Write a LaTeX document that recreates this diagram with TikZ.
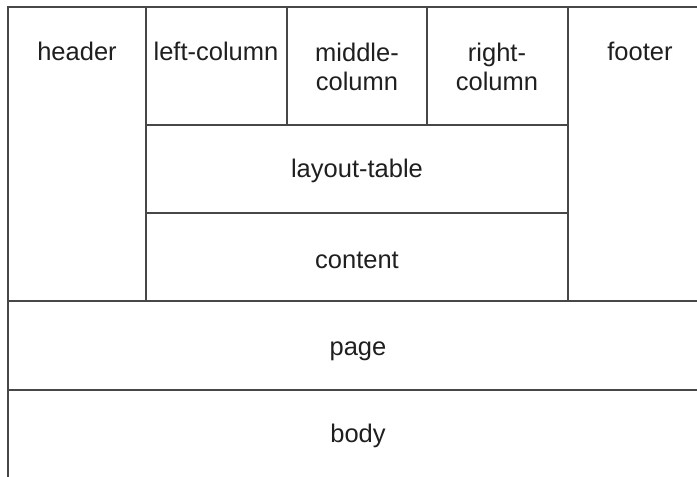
\documentclass[tikz,border=0pt]{standalone}
\usepackage{fontspec}
\setmainfont{Liberation Sans}
\begin{document}
\begin{tikzpicture}[x=1pt,y=-1pt,
  rule/.style={draw=black!72, line width=2.6pt},
  lbl/.style={anchor=base, inner sep=0pt, text=black!88,
    font=\fontsize{25.5}{29}\selectfont}]
\useasboundingbox (0,0) rectangle (697,477);
\clip (0,0) rectangle (697,477);

% grid of the layout boxes
\draw[rule] (712,7) -- (8,7) -- (8,482);
\draw[rule] (146,7) -- (146,301);
\draw[rule] (568,7) -- (568,301);
\draw[rule] (287,7) -- (287,125);
\draw[rule] (427,7) -- (427,125);
\draw[rule] (146,125) -- (568,125);
\draw[rule] (146,213) -- (568,213);
\draw[rule] (8,301) -- (712,301);
\draw[rule] (8,390) -- (712,390);

% labels
\node[lbl] (header) at (77,60) {header};
\node[lbl] (leftcol) at (216,60) {left-column};
\node[lbl] (midA) at (357,61) {middle-};
\node[lbl] (midB) at (357,90) {column};
\node[lbl] (rightA) at (497,61) {right-};
\node[lbl] (rightB) at (497,90) {column};
\node[lbl] (footer) at (640,60) {footer};
\node[lbl] (layout) at (357,177) {layout-table};
\node[lbl] (content) at (357,268) {content};
\node[lbl] (page) at (358,355) {page};
\node[lbl] (body) at (358,442) {body};
\end{tikzpicture}
\end{document}
